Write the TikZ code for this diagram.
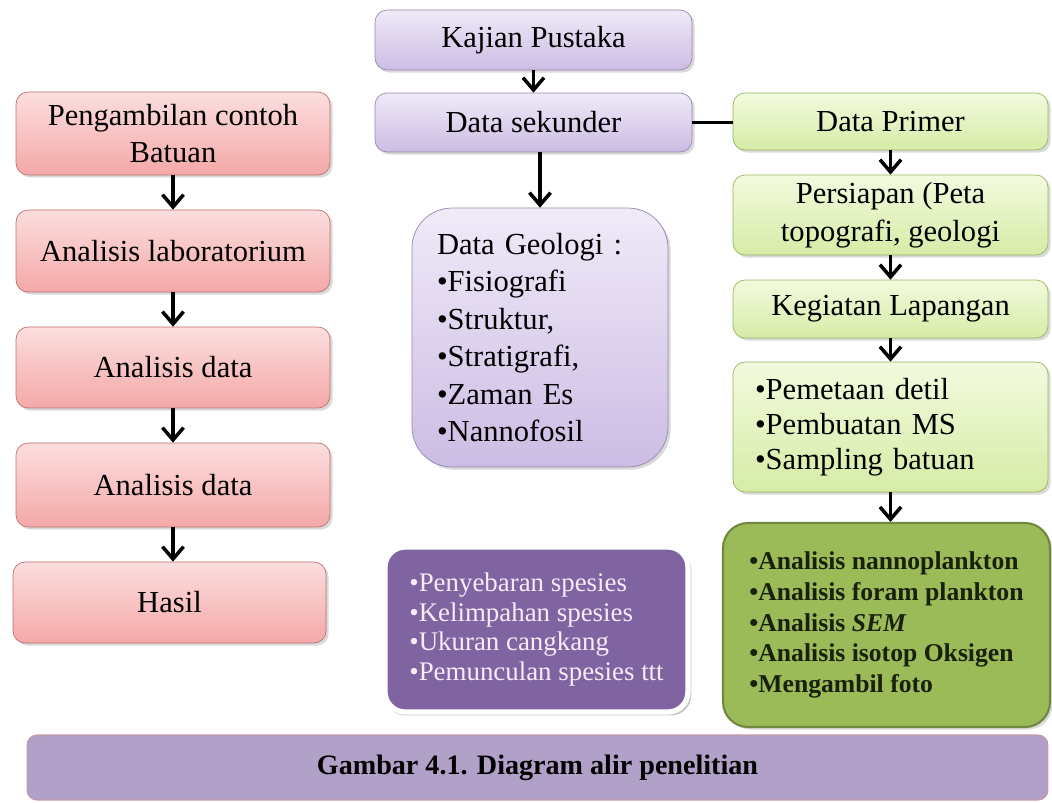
\documentclass[tikz,border=0pt]{standalone}
\usepackage{fontspec}
\setmainfont{Liberation Serif}
\usetikzlibrary{arrows.meta,shadows,calc}
\definecolor{pinktop}{RGB}{252,222,222}
\definecolor{pinkbot}{RGB}{244,168,168}
\definecolor{pinkline}{RGB}{190,110,110}
\definecolor{lavtop}{RGB}{240,234,248}
\definecolor{lavbot}{RGB}{204,188,228}
\definecolor{lavline}{RGB}{150,135,175}
\definecolor{grtop}{RGB}{243,250,222}
\definecolor{grbot}{RGB}{214,236,166}
\definecolor{grline}{RGB}{150,180,95}
\definecolor{darkpurple}{RGB}{128,100,162}
\definecolor{darkgreen}{RGB}{155,187,89}
\definecolor{darkgreenline}{RGB}{113,137,63}
\definecolor{captfill}{RGB}{177,160,199}
\definecolor{captline}{RGB}{200,150,170}
\definecolor{dgtext}{RGB}{25,32,12}
\definecolor{dptext}{RGB}{248,236,248}
\begin{document}
\begin{tikzpicture}[x=0.02cm,y=-0.02cm,
  base/.style={rounded corners=0.24cm, align=center, inner sep=2pt,
    font=\fontsize{17.4}{21}\selectfont,
    drop shadow={shadow xshift=1.5pt, shadow yshift=-1.5pt, opacity=0.3}},
  pinkbox/.style={base, draw=pinkline, top color=pinktop, bottom color=pinkbot},
  lavbox/.style={base, draw=lavline, top color=lavtop, bottom color=lavbot},
  grbox/.style={base, draw=grline, top color=grtop, bottom color=grbot},
  arr/.style={line width=2pt, -{Straight Barb[length=7pt,width=12pt,line width=2pt]}},
  link/.style={line width=2pt}]
\useasboundingbox (0,0) rectangle (1052,803);
% left column
\node[pinkbox, minimum width=6.28cm, minimum height=1.66cm] (p1) at (173,133.5) {Pengambilan contoh\\Batuan};
\node[pinkbox, minimum width=6.28cm, minimum height=1.64cm] (p2) at (173,251) {Analisis laboratorium};
\node[pinkbox, minimum width=6.28cm, minimum height=1.62cm] (p3) at (173,367.5) {Analisis data};
\node[pinkbox, minimum width=6.28cm, minimum height=1.68cm] (p4) at (173,485) {Analisis data};
\node[pinkbox, minimum width=6.26cm, minimum height=1.62cm] (p5) at (169.5,602.5) {Hasil};
% middle column
\node[lavbox, minimum width=6.34cm, minimum height=1.2cm] (kp) at (533.5,40) {Kajian Pustaka};
\node[lavbox, minimum width=6.34cm, minimum height=1.18cm] (ds) at (533.5,122.5) {Data sekunder};
\node[lavbox, rounded corners=0.8cm, minimum width=5.12cm, minimum height=5.18cm,
  text width=4.12cm, align=left, font=\fontsize{17.4}{21.3}\selectfont] (geo) at (540,337.5)
  {Data Geologi :\\•Fisiografi\\•Struktur,\\•Stratigrafi,\\•Zaman Es\\•Nannofosil};
\node[rounded corners=0.4cm, fill=darkpurple, draw=white, line width=3pt,
  drop shadow={shadow xshift=1pt, shadow yshift=-1.5pt, opacity=0.45, shadow scale=1.01},
  minimum width=6.06cm, minimum height=3.3cm, align=left,
  text=dptext, font=\fontsize{15.3}{17}\selectfont] (dp) at (536.5,629.5)
  {•Penyebaran spesies\\•Kelimpahan spesies\\•Ukuran cangkang\\•Pemunculan spesies ttt};
% right column
\node[grbox, minimum width=6.3cm, minimum height=1.14cm] (pr) at (890.5,121.5) {Data Primer};
\node[grbox, minimum width=6.3cm, minimum height=1.6cm, font=\fontsize{17.4}{21.5}\selectfont] (ps) at (890.5,215) {Persiapan (Peta\\topografi, geologi};
\node[grbox, minimum width=6.3cm, minimum height=1.16cm] (kl) at (890.5,309) {Kegiatan Lapangan};
\node[grbox, minimum width=6.3cm, minimum height=2.6cm, text width=5.42cm, align=left,
  font=\fontsize{17.4}{20}\selectfont] (bl) at (890.5,427)
  {•Pemetaan detil\\•Pembuatan MS\\•Sampling batuan};
\node[rounded corners=0.5cm, fill=darkgreen, draw=darkgreenline, line width=1.2pt,
  drop shadow={shadow xshift=1.5pt, shadow yshift=-1.5pt, opacity=0.3},
  minimum width=6.54cm, minimum height=4.08cm, align=left,
  text=dgtext, font=\bfseries\fontsize{14.6}{17.4}\selectfont] (dg) at (886.5,625)
  {•Analisis nannoplankton\\•Analisis foram plankton\\•Analisis \textit{SEM}\\•Analisis isotop Oksigen\\•Mengambil foto};
% caption
\node[rounded corners=0.2cm, fill=captfill, draw=captline, line width=0.6pt,
  minimum width=20.42cm, minimum height=1.3cm, font=\bfseries\fontsize{16}{19}\selectfont] (cap) at (537.5,767.5)
  {Gambar 4.1. Diagram alir penelitian};
% connectors
\draw[arr] (p1) -- (p2);
\draw[arr] (p2) -- (p3);
\draw[arr] (p3) -- (p4);
\draw[arr] (p4.south) -- (p4.south |- p5.north);
\draw[arr] (kp) -- (ds);
\draw[arr] (ds.south -| geo.north) -- (geo.north);
\draw[link] (ds.east) -- (ds.east -| pr.west);
\draw[arr] (pr) -- (ps);
\draw[arr] (ps) -- (kl);
\draw[arr] (kl) -- (bl);
\draw[arr] (bl.south) -- (bl.south |- dg.north);
\end{tikzpicture}
\end{document}
